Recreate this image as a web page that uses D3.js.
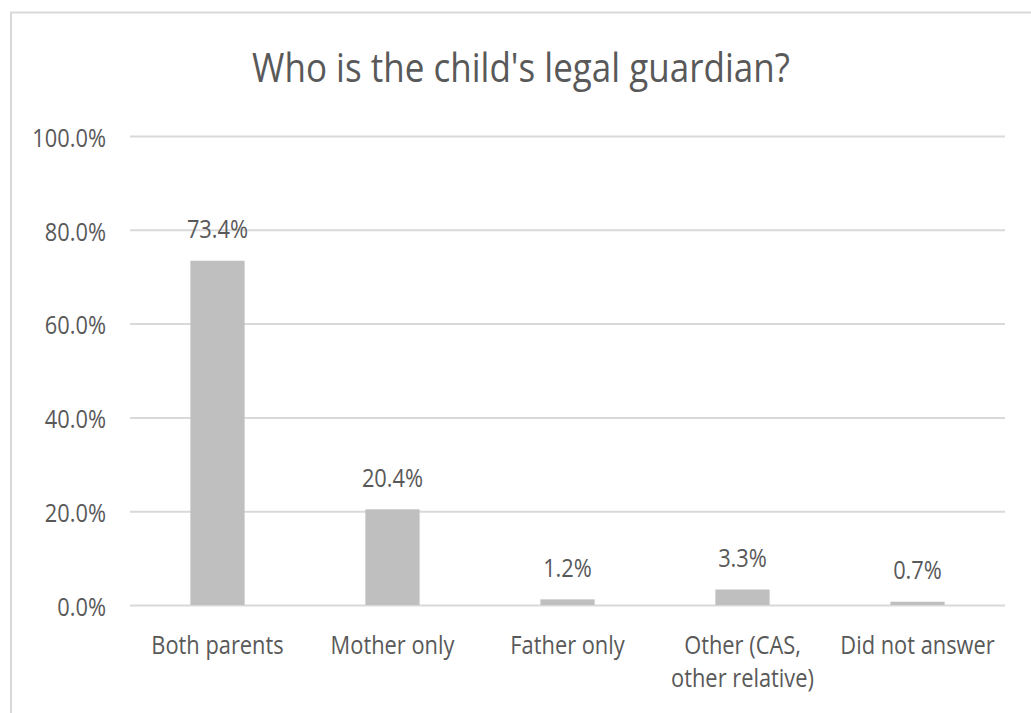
<!DOCTYPE html>
<html>
<head>
<meta charset="utf-8">
<script src="https://cdn.jsdelivr.net/npm/d3@7"></script>
<style>
  html, body { margin: 0; padding: 0; background: #ffffff; }
  svg { display: block; }
  text { font-family: "Open Sans", "Noto Sans", sans-serif; fill: #595959; }
</style>
</head>
<body>
<svg id="chart" width="1031" height="713"></svg>
<script>
// ---- data ----
const title = "Who is the child's legal guardian?";
const categories = ["Both parents", "Mother only", "Father only", "Other (CAS, other relative)", "Did not answer"];
const values = [0.734, 0.204, 0.012, 0.033, 0.007];
const valueLabels = ["73.4%", "20.4%", "1.2%", "3.3%", "0.7%"];
const yTicks = [0, 0.2, 0.4, 0.6, 0.8, 1.0];

// ---- layout ----
const W = 1031, H = 713;
const plot = { left: 130, right: 1005, top: 136, bottom: 605 };
const SX = 0.84;            // horizontal glyph compression to match reference
const TSX = 0.865;
const labelSize = 26;
const titleSize = 40.5;
const grey = "#d9d9d9";

const svg = d3.select("#chart");

// chart frame (only top and left edges visible in reference)
svg.append("rect")
  .attr("x", 11).attr("y", 12.5)
  .attr("width", W + 20).attr("height", H + 20)
  .attr("fill", "#ffffff")
  .attr("stroke", grey).attr("stroke-width", 2);

const x = d3.scaleBand().domain(categories).range([plot.left, plot.right]).padding(0);
const y = d3.scaleLinear().domain([0, 1]).range([plot.bottom, plot.top]);

// title
svg.append("text")
  .attr("transform", `translate(521,82) scale(${TSX},1)`)
  .attr("text-anchor", "middle")
  .style("font-size", titleSize + "px")
  .text(title);

// y axis with gridlines
const yAxis = svg.append("g")
  .attr("transform", `translate(${plot.left},0)`)
  .call(d3.axisLeft(y).tickValues(yTicks).tickFormat(d3.format(".1%"))
        .tickSize(-(plot.right - plot.left)).tickPadding(24));
yAxis.select(".domain").remove();
yAxis.selectAll(".tick line").attr("stroke", grey).attr("stroke-width", 2);
yAxis.selectAll(".tick text")
  .style("font-size", labelSize + "px")
  .attr("fill", "#595959")
  .attr("x", null).attr("dy", null)
  .attr("dominant-baseline", "central")
  .attr("transform", `translate(-24,0) scale(${SX},1)`);

// bars
const barW = x.bandwidth() * 0.31;
svg.append("g").selectAll("rect")
  .data(values)
  .join("rect")
  .attr("x", (d, i) => x(categories[i]) + x.bandwidth() / 2 - barW / 2)
  .attr("y", d => y(d))
  .attr("width", barW)
  .attr("height", d => y(0) - y(d))
  .attr("fill", "#bfbfbf");

// data labels
svg.append("g").selectAll("text")
  .data(values)
  .join("text")
  .attr("text-anchor", "middle")
  .style("font-size", labelSize + "px")
  .attr("transform", (d, i) => `translate(${x(categories[i]) + x.bandwidth() / 2},${y(d) - 22.5}) scale(${SX},1)`)
  .text((d, i) => valueLabels[i]);

// x axis
const xAxis = svg.append("g")
  .attr("transform", `translate(0,${plot.bottom})`)
  .call(d3.axisBottom(x).tickSize(0).tickPadding(0));
xAxis.select(".domain").remove();
xAxis.selectAll(".tick text")
  .style("font-size", labelSize + "px")
  .attr("fill", "#595959")
  .attr("y", null).attr("dy", null)
  .attr("transform", `translate(0,49) scale(${SX},1)`)
  .each(function(d) {
    // wrap text into band width
    const t = d3.select(this);
    const words = d.split(/\s+/);
    t.text(null);
    const maxW = x.bandwidth() / SX - 10;
    let line = [];
    let tspan = t.append("tspan").attr("x", 0).attr("dy", 0);
    for (const w of words) {
      line.push(w);
      tspan.text(line.join(" "));
      if (tspan.node().getComputedTextLength() > maxW && line.length > 1) {
        line.pop();
        tspan.text(line.join(" "));
        line = [w];
        tspan = t.append("tspan").attr("x", 0).attr("dy", 33).text(w);
      }
    }
  });
</script>
</body>
</html>
